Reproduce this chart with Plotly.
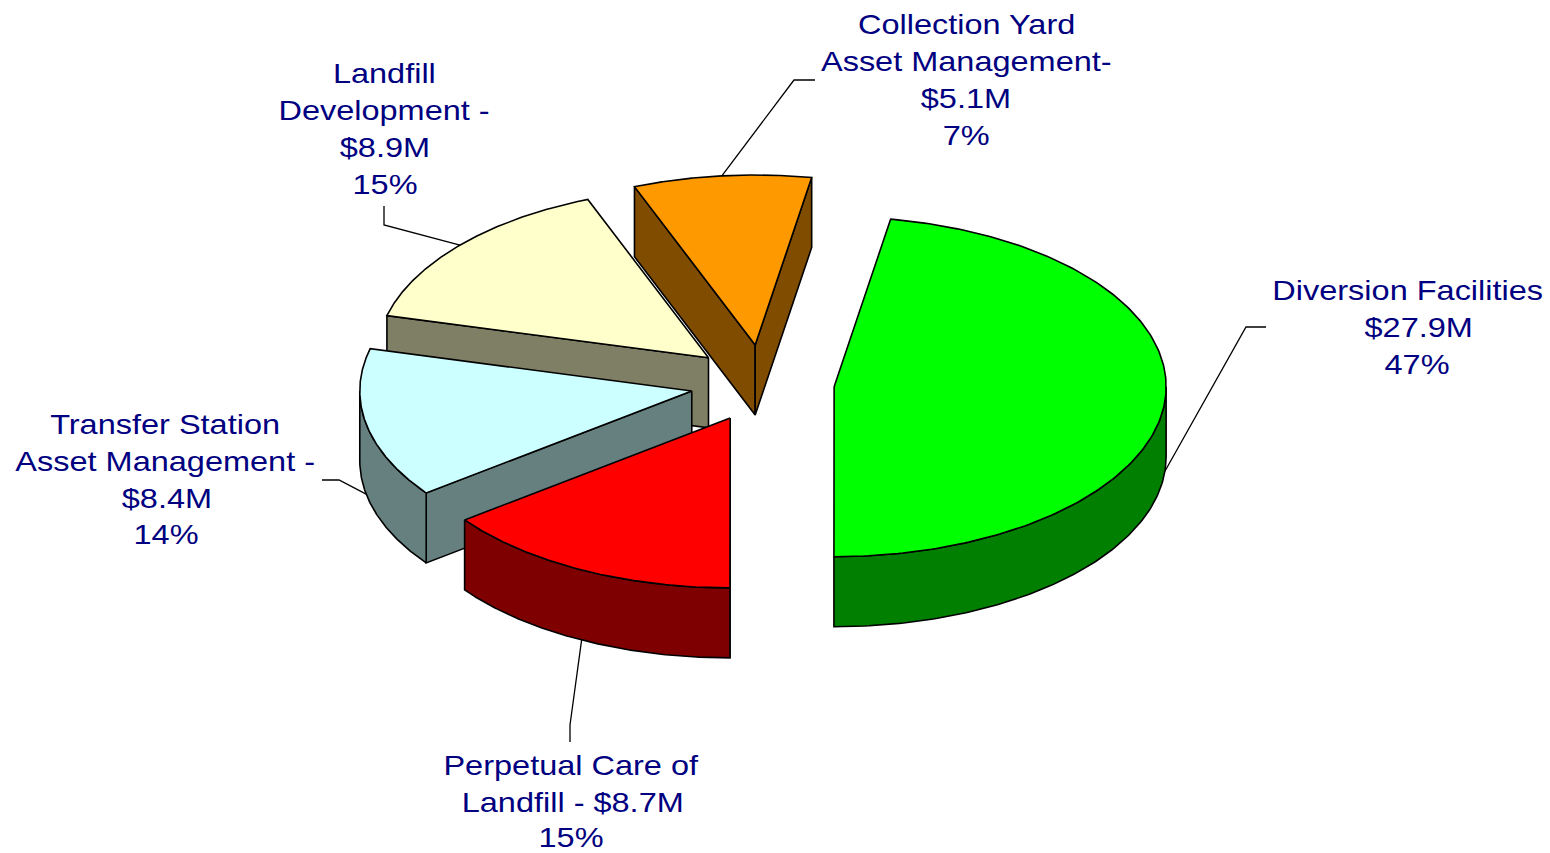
import numpy as np
import plotly.graph_objects as go

# --- data -------------------------------------------------------------
categories = ["Diversion Facilities", "Perpetual Care of Landfill",
              "Transfer Station Asset Management", "Landfill Development",
              "Collection Yard Asset Management"]
values = [27.9, 8.7, 8.4, 8.9, 5.1]  # $M
label_lines = [
    ["Diversion Facilities", "$27.9M", "47%"],
    ["Perpetual Care of", "Landfill - $8.7M", "15%"],
    ["Transfer Station", "Asset Management -", "$8.4M", "14%"],
    ["Landfill", "Development -", "$8.9M", "15%"],
    ["Collection Yard", "Asset Management-", "$5.1M", "7%"],
]
top_colors = ["#00FF00", "#FF0000", "#CCFFFF", "#FFFFCC", "#FF9900"]
side_colors = ["#007F00", "#7F0000", "#667F7F", "#7F7F66", "#7F4C00"]

# --- layout of the drawing (pixels on a 1550x853 canvas) ---------------
W, H = 1550, 853
CX, CY = 762.4, 383.4  # pie centre
RX, RY = 332, 170      # ellipse radii of the tilted pie
DEPTH = 70             # pie thickness
EXPLODE_X, EXPLODE_Y = 72, 38.6  # explosion distance on screen
START = 80.2           # first slice start angle (degrees, clockwise)
FONT = dict(family="Liberation Sans, Arial, sans-serif", size=28, color="#000080")
TEXT_STRETCH = 1.16    # the reference's lettering is wider than the font

label_x = [[1407, 1418, 1417], [571, 572, 571], [165, 165, 167, 166],
           [384, 384, 385, 385], [966, 966, 966, 966]]
label_y = [[290, 327, 364], [765, 802, 837], [424, 461, 498, 534],
           [73, 110, 147, 184], [24, 61, 98, 135]]
leader_elbows = [[(1246, 327), (1266, 327)], [(570, 725), (570, 742)],
                 [(339, 480), (322, 480)], [(384, 225), (384, 206)],
                 [(794, 80), (815, 80)]]

# --- geometry derived from values --------------------------------------
total = sum(values)
angles = [START]
for v in values:
    angles.append(angles[-1] - v / total * 360.0)


def rim(cx, cy, deg):
    t = np.radians(deg)
    return cx + RX * np.cos(t), cy - RY * np.sin(t)


fig = go.Figure()
line = dict(color="black", width=1.6)


def poly(xs, ys, fill):
    fig.add_trace(go.Scatter(x=list(xs), y=list(ys), mode="lines", fill="toself",
                             fillcolor=fill, line=line, hoverinfo="skip",
                             showlegend=False))


slices = []
for i, v in enumerate(values):
    a0, a1 = angles[i], angles[i + 1]
    mid = (a0 + a1) / 2
    t = np.radians(mid)
    cx = CX + EXPLODE_X * np.cos(t)
    cy = CY - EXPLODE_Y * np.sin(t)
    slices.append((i, a0, a1, mid, cx, cy))

# leader lines go beneath the slices
for (i, a0, a1, mid, cx, cy) in slices:
    ax, ay = rim(cx, cy, mid)
    if np.sin(np.radians(mid)) < 0:
        ay += DEPTH
    pts = [(ax, ay)] + leader_elbows[i]
    fig.add_trace(go.Scatter(x=[p[0] for p in pts], y=[p[1] for p in pts],
                             mode="lines", line=dict(color="black", width=1.3),
                             hoverinfo="skip", showlegend=False))

# back-to-front
for (i, a0, a1, mid, cx, cy) in sorted(slices, key=lambda s: s[5]):
    side = side_colors[i]
    # cut faces that look towards the viewer
    for a, visible in ((a0, np.cos(np.radians(a0)) < -1e-6),
                       (a1, np.cos(np.radians(a1)) > 1e-6)):
        if visible:
            rx_, ry_ = rim(cx, cy, a)
            poly([cx, rx_, rx_, cx, cx], [cy, ry_, ry_ + DEPTH, cy + DEPTH, cy], side)
    # outer wall: the part of the rim on the near side
    lo, hi = a1, a0
    walls = []
    for k in (-360, 0):
        s, e = max(lo, 180 + k), min(hi, 360 + k)
        if s < e:
            walls.append((s, e))
    for s, e in walls:
        ts = np.linspace(s, e, 120)
        xs, ys = rim(cx, cy, ts)
        poly(np.r_[xs, xs[::-1], xs[0]], np.r_[ys, ys[::-1] + DEPTH, ys[0]], side)
    # top face
    ts = np.linspace(a0, a1, 200)
    xs, ys = rim(cx, cy, ts)
    poly(np.r_[cx, xs, cx], np.r_[cy, ys, cy], top_colors[i])

annotations = []
for lines, xs, ys in zip(label_lines, label_x, label_y):
    for text, x, y in zip(lines, xs, ys):
        annotations.append(dict(x=x, y=y, text=text, showarrow=False, xref="x", yref="y",
                                xanchor="center", yanchor="middle", font=FONT))

fig.update_layout(
    width=W, height=H, autosize=False,
    margin=dict(l=0, r=0, t=0, b=0),
    paper_bgcolor="white", plot_bgcolor="white",
    xaxis=dict(range=[0, W], visible=False, fixedrange=True),
    yaxis=dict(range=[H, 0], visible=False, fixedrange=True),
    annotations=annotations,
    showlegend=False,
)
stretch_js = """
document.body.style.margin='0';
document.querySelectorAll('.annotation-text').forEach(function (t) {
  t.setAttribute('textLength', t.getComputedTextLength() * %s);
  t.setAttribute('lengthAdjust', 'spacingAndGlyphs');
  t.style.overflow = 'visible';
});
""" % TEXT_STRETCH
fig.write_html("out.html", config={"displayModeBar": False}, post_script=stretch_js)
